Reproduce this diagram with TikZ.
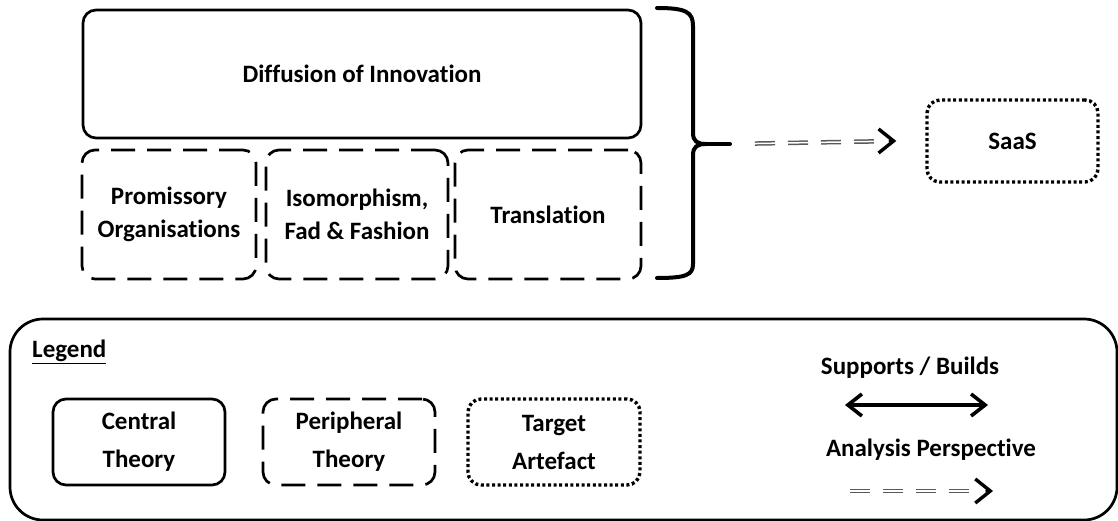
\documentclass[tikz,border=0pt]{standalone}
\usepackage{fontspec}
\setmainfont[Ligatures=NoCommon]{Carlito}
\usetikzlibrary{arrows.meta}

\tikzset{
  theory/.style={draw,line width=2.7pt,rounded corners=13pt,align=center,inner sep=0pt,font=\bfseries\fontsize{25}{33}\selectfont},
  central/.style={theory},
  peripheral/.style={theory,dash pattern=on 24pt off 12pt},
  target/.style={theory,line cap=butt,dash pattern=on 3pt off 2.6pt,line width=3.4pt},
  caption/.style={inner sep=0pt,font=\bfseries\fontsize{25}{30}\selectfont},
  perspective/.style={draw=black!65,line width=1.5pt,double=white,double distance=1.5pt,line cap=butt,dash pattern=on 20pt off 13pt},
  perspectivetip/.style={line width=3.4pt,line cap=round,line join=round,-{Straight Barb[length=15pt,width=24pt]}},
  supports/.style={line width=3.6pt,{Straight Barb[length=14pt,width=22pt]}-{Straight Barb[length=14pt,width=22pt]}}
}

\begin{document}
\begin{tikzpicture}[x=1pt,y=-1pt,line join=round]
  \useasboundingbox (0,0) rectangle (1118,521);
  \node[central,minimum width=558pt,minimum height=128pt] (diffusion) at (362,74) {Diffusion of Innovation};
  \node[peripheral,minimum width=174pt,minimum height=129pt] (promissory) at (169,214.5) {Promissory\\Organisations};
  \node[peripheral,minimum width=182pt,minimum height=129pt] (isomorphism) at (357,214.5) {Isomorphism,\\Fad \& Fashion};
  \node[peripheral,minimum width=186pt,minimum height=129pt] (translation) at (548,214.5) {Translation};
  \node[target,minimum width=171pt,minimum height=82pt] (saas) at (1012.5,141) {SaaS};
  \draw[line width=4pt,line cap=round] (657,8) .. controls (686,8) and (693,12) .. (693,26) -- (693,133)
    .. controls (693,141) and (697,144) .. (706,144)
    .. controls (697,144) and (693,147) .. (693,155) -- (693,264)
    .. controls (693,275) and (686,278) .. (657,278);
  \coordinate (bracetip) at (730,144);
  \coordinate (perspend) at ([xshift=-29pt]saas.west);
  \draw[line width=4pt,line cap=round] (706,144) -- (bracetip);
  \draw[perspective,shorten <=25pt,shorten >=20pt] (bracetip) -- (perspend);
  \draw[perspectivetip] ([xshift=-6pt]perspend) -- (perspend);

  \node[draw,line width=2.7pt,rounded corners=33pt,minimum width=1107pt,minimum height=201pt] (legendbox) at (563.5,419.5) {};
  \node[caption,anchor=west] (legendtitle) at (32,352) {\underline{Legend}};
  \node[central,minimum width=172pt,minimum height=86pt,font=\bfseries\fontsize{25}{38}\selectfont] (centraltheory) at (139,442) {Central\\Theory};
  \node[peripheral,minimum width=172pt,minimum height=86pt,font=\bfseries\fontsize{25}{38}\selectfont] (peripheraltheory) at (349,442) {Peripheral\\Theory};
  \node[target,minimum width=172pt,minimum height=86pt,font=\bfseries\fontsize{25}{38}\selectfont] (targetartefact) at (554,442) {Target\\Artefact};
  \node[caption] (supportslabel) at (910,368) {Supports / Builds};
  \coordinate (supl) at (845,405);
  \coordinate (supr) at (988,405);
  \draw[supports] (supl) -- (supr);
  \node[caption] (analysislabel) at (931,450) {Analysis Perspective};
  \coordinate (anal) at (850,491);
  \coordinate (anar) at (993,491);
  \draw[perspective,shorten >=20pt] (anal) -- (anar);
  \draw[perspectivetip] ([xshift=-6pt]anar) -- (anar);
\end{tikzpicture}
\end{document}
